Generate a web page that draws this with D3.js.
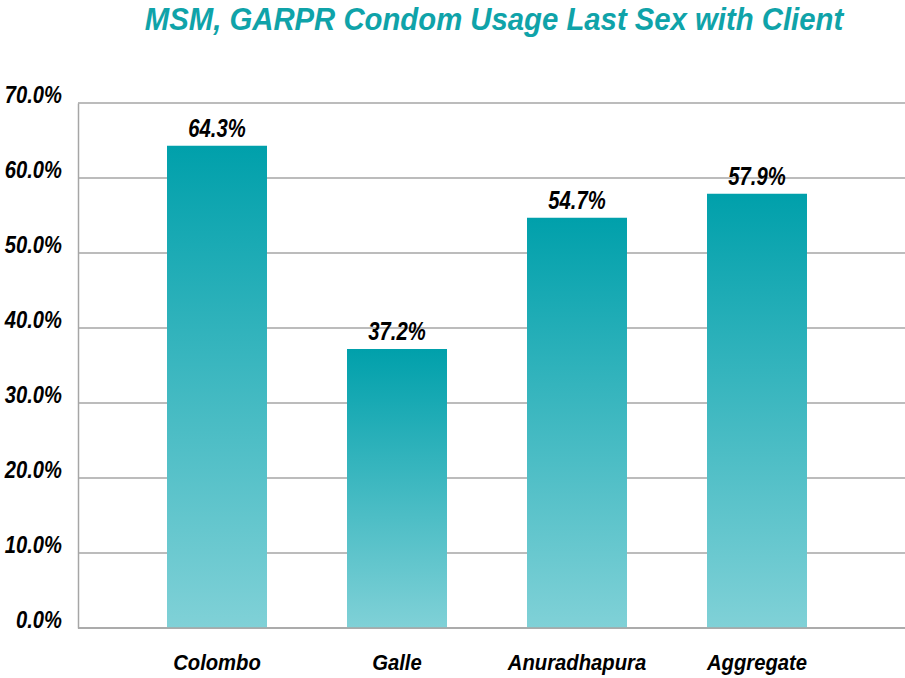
<!DOCTYPE html>
<html>
<head>
<meta charset="utf-8">
<script src="https://cdn.jsdelivr.net/npm/d3@7"></script>
<style>
  html, body { margin: 0; padding: 0; background: #fff; }
  svg { display: block; }
  text { font-family: "Liberation Sans", Arial, sans-serif; font-weight: bold; font-style: italic; }
</style>
</head>
<body>
<svg id="chart" width="905" height="678"></svg>
<script>
// Chart data
const title = "MSM, GARPR Condom Usage Last Sex with Client";
const categories = ["Colombo", "Galle", "Anuradhapura", "Aggregate"];
const values = [64.3, 37.2, 54.7, 57.9];
const yTicks = [0, 10, 20, 30, 40, 50, 60, 70];

const svg = d3.select("#chart");

// Plot frame
const plot = { left: 78, right: 905, top: 103, bottom: 628 };

const y = d3.scaleLinear().domain([0, 70]).range([plot.bottom, plot.top]);
const x = d3.scaleBand()
  .domain(categories)
  .range([127, 847])
  .paddingInner(4 / 9)
  .paddingOuter(2 / 9);

// Vertical gradient used for every bar
const defs = svg.append("defs");
const grad = defs.append("linearGradient")
  .attr("id", "barFill")
  .attr("x1", 0).attr("y1", 0).attr("x2", 0).attr("y2", 1);
grad.append("stop").attr("offset", "0%").attr("stop-color", "#00a0ab");
grad.append("stop").attr("offset", "100%").attr("stop-color", "#80d1d7");

// Squeeze a text element horizontally by a ratio
function condense(sel, ratio) {
  sel.each(function () {
    const len = this.getComputedTextLength();
    d3.select(this)
      .attr("textLength", len * ratio)
      .attr("lengthAdjust", "spacingAndGlyphs");
  });
}

function boldItalic(sel, size) {
  sel.attr("fill", "#000")
    .style("font-size", size + "px")
    .style("font-family", "\"Liberation Sans\", Arial, sans-serif")
    .style("font-weight", "bold")
    .style("font-style", "italic");
}

// Title
svg.append("text")
  .attr("x", 494)
  .attr("y", 30)
  .attr("text-anchor", "middle")
  .attr("fill", "#0fa3a9")
  .style("font-size", "31px")
  .text(title)
  .call(condense, 0.945);

// Horizontal gridlines
svg.append("g")
  .selectAll("line")
  .data(yTicks)
  .join("line")
  .attr("x1", plot.left)
  .attr("x2", plot.right)
  .attr("y1", d => y(d))
  .attr("y2", d => y(d))
  .attr("stroke", "#a6a6a6")
  .attr("stroke-width", 1.5);

// Left axis with percentage labels
const yAxis = svg.append("g")
  .attr("transform", `translate(${plot.left},0)`)
  .call(d3.axisLeft(y).tickValues(yTicks).tickSize(0).tickPadding(16)
    .tickFormat(d => d.toFixed(1) + "%"));
yAxis.select(".domain").attr("stroke", "#a6a6a6").attr("stroke-width", 1.5);
yAxis.selectAll("text")
  .attr("dy", "-0.03em")
  .call(boldItalic, 24)
  .call(condense, 0.84);

// Bars
svg.append("g")
  .selectAll("rect")
  .data(values)
  .join("rect")
  .attr("x", (d, i) => x(categories[i]))
  .attr("width", x.bandwidth())
  .attr("y", d => y(d))
  .attr("height", d => y(0) - y(d))
  .attr("fill", "url(#barFill)");

// Value labels above the bars
svg.append("g")
  .selectAll("text")
  .data(values)
  .join("text")
  .attr("x", (d, i) => x(categories[i]) + x.bandwidth() / 2)
  .attr("y", d => y(d) - 9)
  .attr("text-anchor", "middle")
  .call(boldItalic, 25)
  .text(d => d.toFixed(1) + "%")
  .call(condense, 0.81);

// Bottom axis with category names
const xAxis = svg.append("g")
  .attr("transform", `translate(0,${plot.bottom})`)
  .call(d3.axisBottom(x).tickSize(0).tickPadding(26));
xAxis.select(".domain").remove();
svg.append("line")
  .attr("x1", plot.left).attr("x2", plot.right)
  .attr("y1", y(0)).attr("y2", y(0))
  .attr("stroke", "#a6a6a6").attr("stroke-width", 1.5);
xAxis.selectAll("text")
  .call(boldItalic, 22)
  .call(condense, 0.92);
</script>
</body>
</html>
